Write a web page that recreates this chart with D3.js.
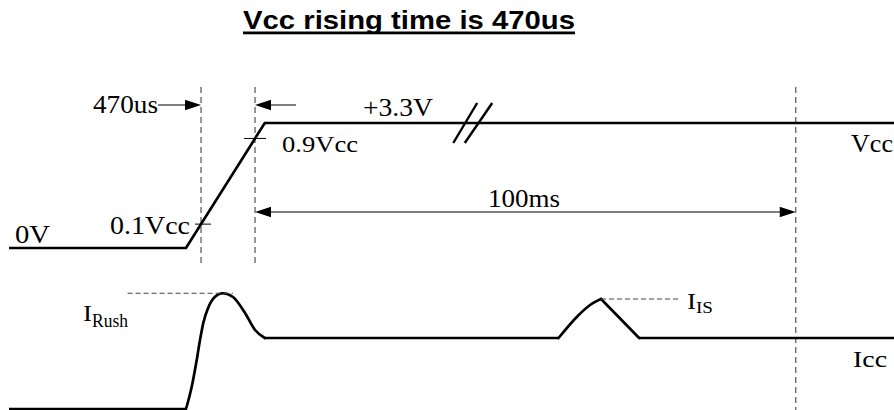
<!DOCTYPE html>
<html>
<head>
<meta charset="utf-8">
<script src="https://cdn.jsdelivr.net/npm/d3@7"></script>
<style>
  html, body { margin: 0; padding: 0; background: #fff; }
  svg { display: block; }
  .serif { font-family: "Liberation Serif", "Times New Roman", serif; fill: #000; }
</style>
</head>
<body>
<svg id="chart" width="894" height="410"></svg>
<script>
// ---------------- DATA (diagram time units 0..100, normalised levels) ----------------
const title = "Vcc rising time is 470us";

// Vcc waveform
const vccTime  = [0, 20.0, 28.9, 100];
const vccLevel = [0, 0, 1, 1];

// Icc waveform pieces
const iccFlatTime  = [[0, 20.0], [28.9, 62.1], [71.2, 100]];
const iccFlatLevel = [[0, 0], [1, 1], [1, 1]];
const rushTime  = [20.0, 20.64, 21.21, 21.58, 21.95, 22.49, 23.28, 24.15, 25.31, 26.67, 27.8, 28.9];
const rushLevel = [0, 0.31, 0.69, 0.97, 1.21, 1.42, 1.58, 1.63, 1.577, 1.352, 1.113, 1.0];
const isRiseTime  = [62.1, 64.18, 65.65, 66.9];
const isRiseLevel = [1.0, 1.30, 1.465, 1.549];
const isFallTime  = [66.9, 71.2];
const isFallLevel = [1.549, 1.0];

// Timing markers (dashed verticals): 0.1Vcc, 0.9Vcc, +100ms
const markerTime = [21.7, 27.8, 88.9];
const rushPeakLevel = 1.63;
const isPeakLevel = 1.549;

// Labels
const vccLabels = ["470us", "+3.3V", "0.9Vcc", "Vcc", "0.1Vcc", "0V", "100ms"];
const iccLabels = ["I", "Rush", "I", "IS", "Icc"];

// ---------------- DRAWING ----------------
const svg = d3.select("#chart");
const x = d3.scaleLinear().domain([0, 100]).range([9, 894]);
const yV = d3.scaleLinear().domain([0, 1]).range([248, 123]);
const yI = d3.scaleLinear().domain([0, 1]).range([409, 338]);

const sigStroke = 2.7;

// Title
svg.append("text")
  .attr("x", 243).attr("y", 29)
  .attr("font-family", "Liberation Sans, Arial, sans-serif")
  .attr("font-weight", "bold").attr("font-size", 26)
  .attr("textLength", 332).attr("lengthAdjust", "spacingAndGlyphs")
  .text(title);
svg.append("rect").attr("x", 243).attr("y", 31.5).attr("width", 332).attr("height", 2.8).attr("fill", "#000");

// Dashed verticals
const vTop = 87;
markerTime.forEach((t, i) => {
  svg.append("line")
    .attr("x1", x(t)).attr("x2", x(t))
    .attr("y1", vTop).attr("y2", i < 2 ? 264 : 410)
    .attr("stroke", "#555").attr("stroke-width", 1.2)
    .attr("stroke-dasharray", "6,4");
});

// Vcc line
const lineV = d3.line().x((d, i) => x(vccTime[i])).y((d, i) => yV(vccLevel[i]));
svg.append("path").datum(vccTime).attr("d", lineV)
  .attr("fill", "none").attr("stroke", "#000").attr("stroke-width", sigStroke)
  .attr("stroke-linejoin", "miter");

// Ramp crossing ticks
function rampLevelAt(t) {
  return (t - vccTime[1]) / (vccTime[2] - vccTime[1]);
}
[[markerTime[0], 8, 2], [markerTime[1], 11, 0]].forEach(([t, hw, off]) => {
  const lv = rampLevelAt(t);
  const cx = x(t) + off;
  svg.append("line").attr("x1", cx - hw).attr("x2", cx + hw)
    .attr("y1", yV(lv)).attr("y2", yV(lv))
    .attr("stroke", "#000").attr("stroke-width", 1);
});

// Break mark on the +3.3V line
[[50.2, 52.9], [51.5, 54.6]].forEach(([t0, t1]) => {
  svg.append("line")
    .attr("x1", x(t0)).attr("y1", yV(1) + 20)
    .attr("x2", x(t1)).attr("y2", yV(1) - 20)
    .attr("stroke", "#000").attr("stroke-width", 2.4);
});

// Arrow helper
function arrowHead(tipX, y, dir) {
  const L = 16, H = 5.3;
  svg.append("path")
    .attr("d", `M${tipX},${y} L${tipX - dir * L},${y - H} L${tipX - dir * L},${y + H} Z`)
    .attr("fill", "#000");
}
function hline(x1, x2, y) {
  svg.append("line").attr("x1", x1).attr("x2", x2).attr("y1", y).attr("y2", y)
    .attr("stroke", "#000").attr("stroke-width", 1.1);
}
const arrowY = 105;
hline(158, x(markerTime[0]) - 8, arrowY);
arrowHead(x(markerTime[0]), arrowY, 1);
hline(x(markerTime[1]) + 8, 296, arrowY);
arrowHead(x(markerTime[1]), arrowY, -1);

const msY = 212;
hline(x(markerTime[1]) + 8, x(markerTime[2]) - 8, msY);
arrowHead(x(markerTime[1]), msY, -1);
arrowHead(x(markerTime[2]), msY, 1);

// Icc waveform
const lin = d3.line();
iccFlatTime.forEach((seg, k) => {
  svg.append("path")
    .attr("d", lin(seg.map((t, i) => [x(t), yI(iccFlatLevel[k][i])])))
    .attr("fill", "none").attr("stroke", "#000").attr("stroke-width", sigStroke);
});
const curveLine = d3.line().curve(d3.curveMonotoneX);
svg.append("path")
  .attr("d", curveLine(rushTime.map((t, i) => [x(t), yI(rushLevel[i])])))
  .attr("fill", "none").attr("stroke", "#000").attr("stroke-width", sigStroke)
  .attr("stroke-linecap", "round");
svg.append("path")
  .attr("d", curveLine(isRiseTime.map((t, i) => [x(t), yI(isRiseLevel[i])])))
  .attr("fill", "none").attr("stroke", "#000").attr("stroke-width", sigStroke)
  .attr("stroke-linecap", "round");
svg.append("path")
  .attr("d", lin(isFallTime.map((t, i) => [x(t), yI(isFallLevel[i])])))
  .attr("fill", "none").attr("stroke", "#000").attr("stroke-width", sigStroke)
  .attr("stroke-linecap", "round");

// Peak dashed guides
svg.append("line").attr("x1", x(13.4)).attr("x2", x(25.3))
  .attr("y1", yI(rushPeakLevel)).attr("y2", yI(rushPeakLevel))
  .attr("stroke", "#444").attr("stroke-width", 1).attr("stroke-dasharray", "5,3");
svg.append("line").attr("x1", x(66.9)).attr("x2", x(75.6))
  .attr("y1", yI(isPeakLevel)).attr("y2", yI(isPeakLevel))
  .attr("stroke", "#444").attr("stroke-width", 1).attr("stroke-dasharray", "5,3");

// Text labels
function label(txt, px, py, size, len) {
  const t = svg.append("text").attr("class", "serif")
    .attr("x", px).attr("y", py).attr("font-size", size).text(txt);
  if (len) t.attr("textLength", len).attr("lengthAdjust", "spacingAndGlyphs");
  return t;
}
label(vccLabels[0], 93, 113, 25.5, 65);
label(vccLabels[1], 363, 116, 24.5, 70);
label(vccLabels[2], 282, 152, 24, 76);
label(vccLabels[3], 851, 152, 25.5, 42);
label(vccLabels[4], 110, 234, 24.5, 80);
label(vccLabels[5], 15, 243, 25.5, 35);
label(vccLabels[6], 488, 207, 25.5, 72);

label(iccLabels[0], 83, 321, 22.5, 9);
label(iccLabels[1], 92, 327, 18, 36);
label(iccLabels[2], 687, 309, 23.5, 9);
label(iccLabels[3], 696, 313, 17, 17);
label(iccLabels[4], 853, 367, 22.5, 34);
</script>
</body>
</html>
